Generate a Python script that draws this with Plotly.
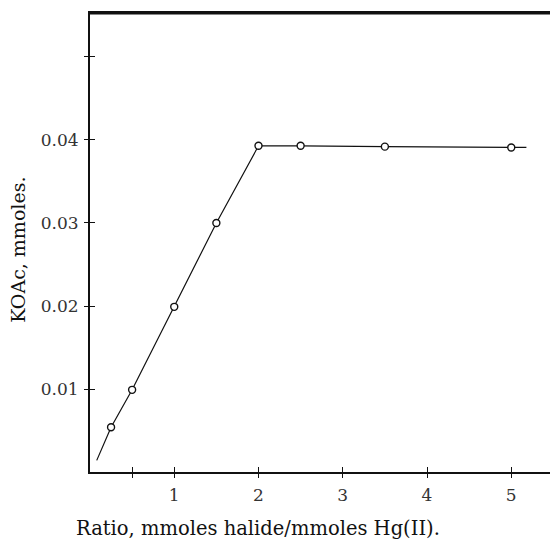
import plotly.graph_objects as go

# data points
ratio = [0.25, 0.5, 1.0, 1.5, 2.0, 2.5, 3.5, 5.0]
koac = [0.0054, 0.0099, 0.0199, 0.0300, 0.0393, 0.0393, 0.0392, 0.0391]

# drawn line (extends slightly beyond measured points)
line_x = [0.08, 0.25, 0.5, 1.0, 1.5, 2.0, 2.5, 3.5, 5.0, 5.18]
line_y = [0.0014, 0.0054, 0.0099, 0.0199, 0.0300, 0.0393, 0.0393, 0.0392, 0.0391, 0.0391]

x_tickvals = [0.5, 1, 2, 3, 4, 5]
x_ticktext = ["", "1", "2", "3", "4", "5"]
y_tickvals = [0.01, 0.02, 0.03, 0.04, 0.05]
y_ticktext = ["0.01", "0.02", "0.03", "0.04", ""]

x_title = "Ratio, mmoles halide/mmoles Hg(II)."
y_title = "KOAc, mmoles."

x_range = [0, 5.46]
y_range = [0, 0.0553]

font_family = "DejaVu Serif"
ink = "#111111"

fig = go.Figure()
fig.add_trace(go.Scatter(x=line_x, y=line_y, mode="lines",
                         line=dict(color=ink, width=1.2), showlegend=False,
                         hoverinfo="skip"))
fig.add_trace(go.Scatter(x=ratio, y=koac, mode="markers",
                         marker=dict(symbol="circle", size=7, color="white",
                                     line=dict(color=ink, width=1.4)),
                         showlegend=False))

# invisible trace on overlay axes so they render
fig.add_trace(go.Scatter(x=[None], y=[None], xaxis="x2", yaxis="y2",
                         showlegend=False, hoverinfo="skip"))

fig.update_layout(
    width=550, height=543,
    margin=dict(l=90, r=0, t=13, b=71),
    paper_bgcolor="white", plot_bgcolor="white",
    font=dict(family=font_family, color=ink, size=17),
    xaxis=dict(range=x_range, tickvals=x_tickvals, ticktext=x_ticktext,
               ticks="outside", ticklen=4, tickwidth=1.3, tickcolor=ink,
               showline=True, linewidth=2, linecolor=ink, mirror=True,
               showgrid=False, zeroline=False, ticklabelstandoff=3,
               tickfont=dict(family=font_family, size=17, color="#333333"),
               automargin=False),
    yaxis=dict(range=y_range, tickvals=y_tickvals, ticktext=y_ticktext,
               ticks="outside", ticklen=4, tickwidth=1.3, tickcolor=ink,
               showline=True, linewidth=2, linecolor=ink, mirror=False,
               showgrid=False, zeroline=False, ticklabelstandoff=2,
               tickfont=dict(family=font_family, size=17, color="#333333"),
               automargin=False),
    xaxis2=dict(range=x_range, overlaying="x", side="bottom",
                tickvals=x_tickvals, ticks="inside", ticklen=5,
                tickwidth=1.3, tickcolor=ink, showticklabels=False,
                showline=False, showgrid=False, zeroline=False),
    yaxis2=dict(range=y_range, overlaying="y", side="left",
                tickvals=y_tickvals, ticks="inside", ticklen=5,
                tickwidth=1.3, tickcolor=ink, showticklabels=False,
                showline=False, showgrid=False, zeroline=False),
    shapes=[dict(type="line", xref="paper", yref="paper", x0=0, x1=1,
                 y0=1, y1=1, line=dict(color=ink, width=3))],
    annotations=[
        dict(text=x_title, xref="paper", yref="paper", x=0.365, y=-0.124,
             xanchor="center", yanchor="middle", showarrow=False,
             font=dict(family=font_family, size=19.5, color=ink)),
        dict(text=y_title, xref="paper", yref="paper", x=-0.1565, y=0.484,
             xanchor="center", yanchor="middle", showarrow=False,
             textangle=-90,
             font=dict(family=font_family, size=19, color=ink)),
    ],
)

fig.write_html("out.html", config={"displayModeBar": False},
               post_script="document.body.style.margin='0';"
                           "document.body.style.overflow='hidden';")
